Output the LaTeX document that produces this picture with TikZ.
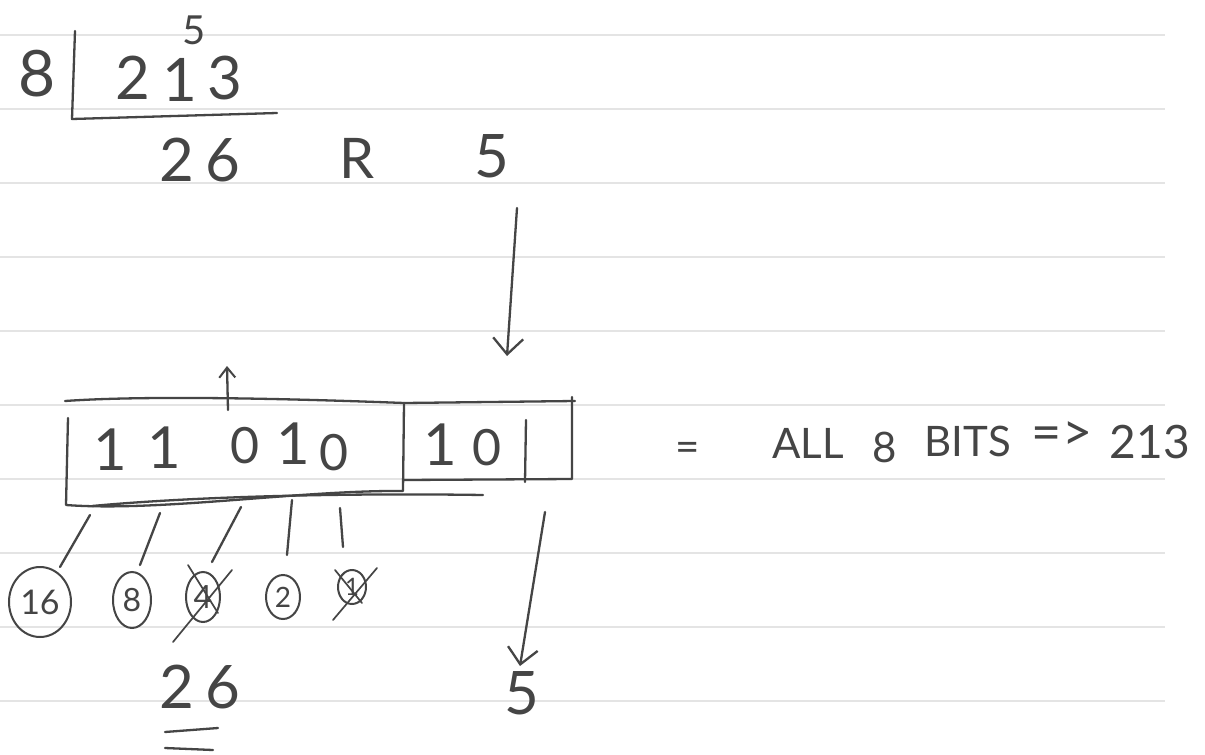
\documentclass[tikz,border=0pt]{standalone}
\usepackage{fontspec}
\setmainfont{Lato}
\usetikzlibrary{arrows.meta,shapes.geometric}
\definecolor{ink}{HTML}{454545}
\definecolor{rulecol}{HTML}{E4E4E4}
\tikzset{
  pen/.style={draw=ink, line width=2.3pt, line cap=round, line join=round},
  thin pen/.style={draw=ink, line width=1.7pt, line cap=round, line join=round},
  ruling/.style={draw=rulecol, line width=1.6pt},
  hand/.style={text=ink, inner sep=0pt},
  hbig/.style={hand, font=\fontsize{60}{64}\selectfont},
  hone/.style={hand, font=\fontsize{58}{62}\selectfont},
  hzero/.style={hand, font=\fontsize{50}{54}\selectfont},
  hsmall/.style={hand, font=\fontsize{40}{42}\selectfont},
  htext/.style={hand, font=\fontsize{42}{44}\selectfont},
  spread/.style={font=\fontsize{60}{64}\selectfont\addfontfeature{LetterSpace=18}},
  ring/.style={ellipse, draw=ink, line width=2pt, inner sep=0pt, text=ink},
  barb/.style={-{Straight Barb[length=16pt,width=30pt,line width=2.3pt]}},
  smallbarb/.style={-{Straight Barb[length=10pt,width=16pt,line width=2pt]}}
}
\begin{document}
\begin{tikzpicture}[x=1pt,y=-1pt]
\useasboundingbox (0,0) rectangle (1205,755);
\fill[white] (0,0) rectangle (1205,755);
% ruled paper
\foreach \yy in {35,109,183,257,331,405,479,553,627,701}
  \draw[ruling] (0,\yy) -- (1165,\yy);

% ---- division 213 / 8 ----
\node[hsmall] (carry) at (194,30) {5};
\node[hand, font=\fontsize{64}{66}\selectfont] (div8) at (37,74) {8};
\node[hbig] (dig2) at (133,78) {2};
\node[hbig] (dig1) at (180,80) {1};
\node[hbig] (dig3) at (225,78) {3};
\draw[pen] (75,31) -- (72,119) -- (277,113);
\node[hand, spread] (quot) at (200,160) {26};
\node[hand, font=\fontsize{56}{60}\selectfont] (remR) at (357,158) {R};
\node[hbig] (rem5) at (492,156) {5};

% arrow from remainder to the 3-bit box
\coordinate (a1s) at (517,208);
\coordinate (a1e) at (507,356);
\draw[pen,barb] (a1s) -- (a1e);

% ---- the bit boxes ----
\coordinate (upS) at (228,410);
\coordinate (upE) at (227,366);
\draw[pen,smallbarb] (upS) -- (upE);
% big box (5 bits)
\draw[pen] (65,401) .. controls (150,395) and (300,399) .. (404,403) -- (575,401);
\draw[pen] (68,418) -- (66,505) .. controls (160,512) and (300,490) .. (403,491) -- (404,403);
% small box (3 bits)
\draw[pen] (404,480) -- (572,479) -- (572,397);
\draw[pen] (526,420) -- (525,482);
% underline
\draw[pen] (92,506) .. controls (200,496) and (350,493) .. (483,495);

\node[hone] (b1) at (110,450) {1};
\node[hone] (b2) at (164,448) {1};
\node[hzero] (b3) at (245,446) {0};
\node[hone] (b4) at (293,444) {1};
\node[hzero] (b5) at (334,453) {0};
\node[hone] (b6) at (440,445) {1};
\node[hzero] (b7) at (487,448) {0};

% ---- place values ----
\node[ring, minimum width=62pt, minimum height=70pt, font=\fontsize{34}{36}\selectfont] (p16) at (40,602) {16};
\node[ring, minimum width=38pt, minimum height=56pt, font=\fontsize{32}{34}\selectfont] (p8) at (132,600) {8};
\node[ring, minimum width=34pt, minimum height=50pt, font=\fontsize{32}{34}\selectfont] (p4) at (203,597) {4};
\node[ring, minimum width=34pt, minimum height=44pt, font=\fontsize{28}{30}\selectfont] (p2) at (283,597) {2};
\node[ring, minimum width=28pt, minimum height=34pt, font=\fontsize{24}{26}\selectfont] (p1) at (352,587) {1};

\draw[pen] (90,515) -- (60,567);
\draw[pen] (160,513) -- (140,565);
\draw[pen] (241,507) -- (212,562);
\draw[pen] (292,500) -- (287,555);
\draw[pen] (340,508) -- (343,547);
% crossings
\draw[thin pen] (188,565) -- (218,613);
\draw[thin pen] (232,570) -- (173,642);
\draw[thin pen] (335,570) -- (362,603);
\draw[thin pen] (377,568) -- (333,620);

% ---- results ----
\node[hand, spread] (res26) at (200,687) {26};
\draw[pen] (165,732) -- (218,728);
\draw[pen] (165,748) -- (213,750);

\coordinate (a2s) at (545,512);
\coordinate (a2e) at (520,666);
\draw[pen,barb] (a2s) -- (a2e);
\node[hbig] (res5) at (522,693) {5};

% ---- conclusion ----
\node[htext] (eq) at (688,452) {=};
\node[htext] (wALL) at (808,443) {ALL};
\node[htext] (w8) at (885,447) {8};
\node[htext] (wBITS) at (968,441) {BITS};
\node[hand, font=\fontsize{52}{54}\selectfont] (wimp) at (1062,436) {=>};
\node[hand, font=\fontsize{46}{48}\selectfont] (w213) at (1150,442) {213};
\end{tikzpicture}
\end{document}
